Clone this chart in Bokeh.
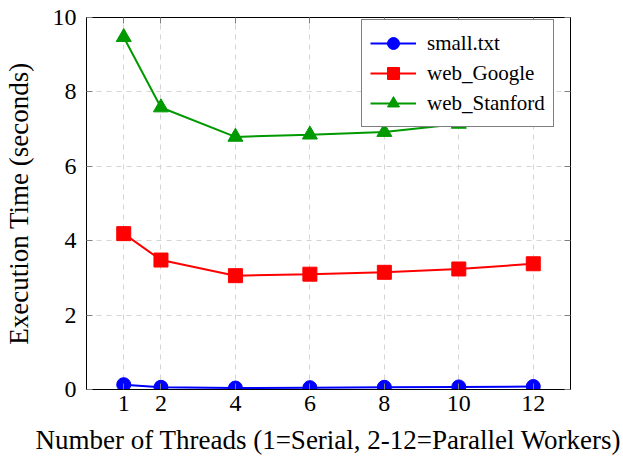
from bokeh.plotting import figure
from bokeh.models import LinearAxis, FixedTicker, Range1d, Legend, LegendItem
from bokeh.embed import file_html
from bokeh.resources import INLINE

threads = [1, 2, 4, 6, 8, 10, 12]
small_txt = [0.13, 0.06, 0.04, 0.05, 0.06, 0.07, 0.08]
web_google = [4.19, 3.48, 3.06, 3.10, 3.15, 3.24, 3.38]
web_stanford = [9.47, 7.58, 6.79, 6.85, 6.92, 7.14, 7.35]
x_ticks = [1, 2, 4, 6, 8, 10, 12]
y_ticks = [0, 2, 4, 6, 8, 10]

FONT = "Liberation Serif"

p = figure(frame_width=484, frame_height=372, output_backend="svg", toolbar_location=None,
           x_range=Range1d(0, 13), y_range=Range1d(0, 10),
           min_border_left=86, min_border_right=50, min_border_top=17, min_border_bottom=0)

p.outline_line_color = "black"
p.outline_line_width = 1
p.background_fill_color = "white"

for ax in (p.xaxis[0], p.yaxis[0]):
    ax.major_tick_in = 6
    ax.major_tick_out = 0
    ax.minor_tick_in = 0
    ax.minor_tick_out = 0
    ax.major_tick_line_color = "#808080"
    ax.axis_line_color = "black"
    ax.major_label_text_font = FONT
    ax.major_label_text_font_size = "24px"
    ax.major_label_text_color = "black"
    ax.axis_label_text_font = FONT
    ax.axis_label_text_font_style = "normal"
    ax.axis_label_text_color = "black"
    ax.axis_label_text_font_size = "27px"

p.xaxis[0].ticker = FixedTicker(ticks=x_ticks)
p.yaxis[0].ticker = FixedTicker(ticks=y_ticks)
p.xaxis[0].axis_label = "Number of Threads (1=Serial, 2-12=Parallel Workers)"
p.yaxis[0].axis_label = "Execution Time (seconds)"
p.xaxis[0].major_label_standoff = 6
p.yaxis[0].major_label_standoff = 10
p.xaxis[0].axis_label_standoff = 11
p.yaxis[0].axis_label_standoff = 16

top_ax = LinearAxis(ticker=FixedTicker(ticks=x_ticks), major_label_text_font_size="1px",
                    major_label_text_color=None,
                    major_tick_in=6, major_tick_out=0, minor_tick_in=0, minor_tick_out=0,
                    major_tick_line_color="#808080", axis_line_color="black",
                    major_label_standoff=0)
right_ax = LinearAxis(ticker=FixedTicker(ticks=y_ticks), major_label_text_font_size="1px",
                      major_label_text_color=None,
                      major_tick_in=6, major_tick_out=0, minor_tick_in=0, minor_tick_out=0,
                      major_tick_line_color="#808080", axis_line_color="black",
                      major_label_standoff=0)
p.add_layout(top_ax, "above")
p.add_layout(right_ax, "right")

p.xgrid.ticker = FixedTicker(ticks=x_ticks)
p.ygrid.ticker = FixedTicker(ticks=y_ticks)
for g in (p.xgrid[0], p.ygrid[0]):
    g.grid_line_color = "#d4d4d4"
    g.grid_line_dash = "5 5"
    g.grid_line_width = 1

series = [
    ("small.txt", small_txt, "#0000ff", "circle", 14),
    ("web_Google", web_google, "#ff0000", "square", 14),
    ("web_Stanford", web_stanford, "#009900", "triangle", 15),
]
items = []
for name, vals, color, marker, size in series:
    l = p.line(threads, vals, line_color=color, line_width=2)
    s = p.scatter(threads, vals, marker=marker, size=size, fill_color=color, line_color=color)
    items.append(LegendItem(label=name, renderers=[l, s]))

legend = Legend(items=items, location=(275, 262))
legend.border_line_color = "black"
legend.border_line_width = 1.2
legend.label_text_font = FONT
legend.label_text_font_size = "21px"
legend.label_text_color = "black"
legend.glyph_width = 46
legend.glyph_height = 30
legend.label_standoff = 11
legend.spacing = 0
legend.padding = 8
legend.margin = 0
legend.label_height = 30
legend.background_fill_alpha = 1
p.add_layout(legend, "center")

open("out.html", "w").write(file_html(p, INLINE))
